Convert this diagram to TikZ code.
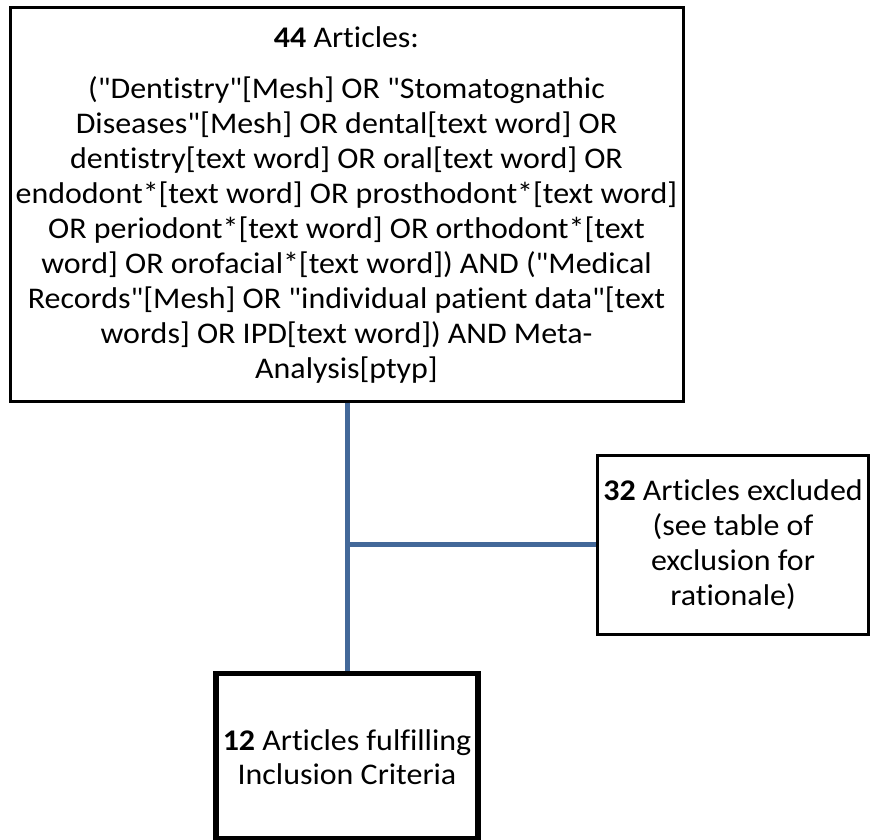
\documentclass[tikz,border=0pt]{standalone}
\usepackage{fontspec}
\newfontfamily\calib{Carlito}[FakeStretch=1.065,Ligatures=NoCommon]
\definecolor{linkblue}{RGB}{67,104,153}
\begin{document}
\begin{tikzpicture}[x=1pt,y=-1pt,
  box/.style={draw=black, line width=3pt, inner sep=0pt},
  thickbox/.style={draw=black, line width=5.5pt, inner sep=0pt},
  txt/.style={align=center, inner sep=0pt, anchor=base, font=\calib\fontsize{30}{35}\selectfont},
  link/.style={draw=linkblue, line width=5pt}]
\useasboundingbox (0,0) rectangle (870,840);
\begin{scope}
\clip (0,0) rectangle (870,840);
\node[box, minimum width=673pt, minimum height=393pt] (top) at (346.5,204.5) {};
\node[box, minimum width=271pt, minimum height=179pt] (right) at (732.5,544.5) {};
\node[thickbox, minimum width=262pt, minimum height=165pt] (bottom) at (347,756) {};
\coordinate (ts) at (bottom.north |- top.south);
\coordinate (junc) at (bottom.north |- right.west);
\draw[link] (ts) -- (bottom.north);
\draw[link] (junc) -- (right.west);
\node[txt] (toptitle) at (346.5,48) {\textbf{44} Articles:};
\node[txt] (topbody) at (346.5,378) {("Dentistry"[Mesh] OR "Stomatognathic\\
Diseases"[Mesh] OR dental[text word] OR\\
dentistry[text word] OR oral[text word] OR\\
endodont*[text word] OR prosthodont*[text word]\\
OR periodont*[text word] OR orthodont*[text\\
word] OR orofacial*[text word]) AND ("Medical\\
Records"[Mesh] OR "individual patient data"[text\\
words] OR IPD[text word]) AND Meta-\\
Analysis[ptyp]};
\node[txt] (righttext) at (733,605) {\textbf{32} Articles excluded\\(see table of\\exclusion for\\rationale)};
\node[txt, font=\calib\fontsize{30}{34}\selectfont] (bottomtext) at (347,784) {\textbf{12} Articles fulfilling\\Inclusion Criteria};
\end{scope}
\end{tikzpicture}
\end{document}
